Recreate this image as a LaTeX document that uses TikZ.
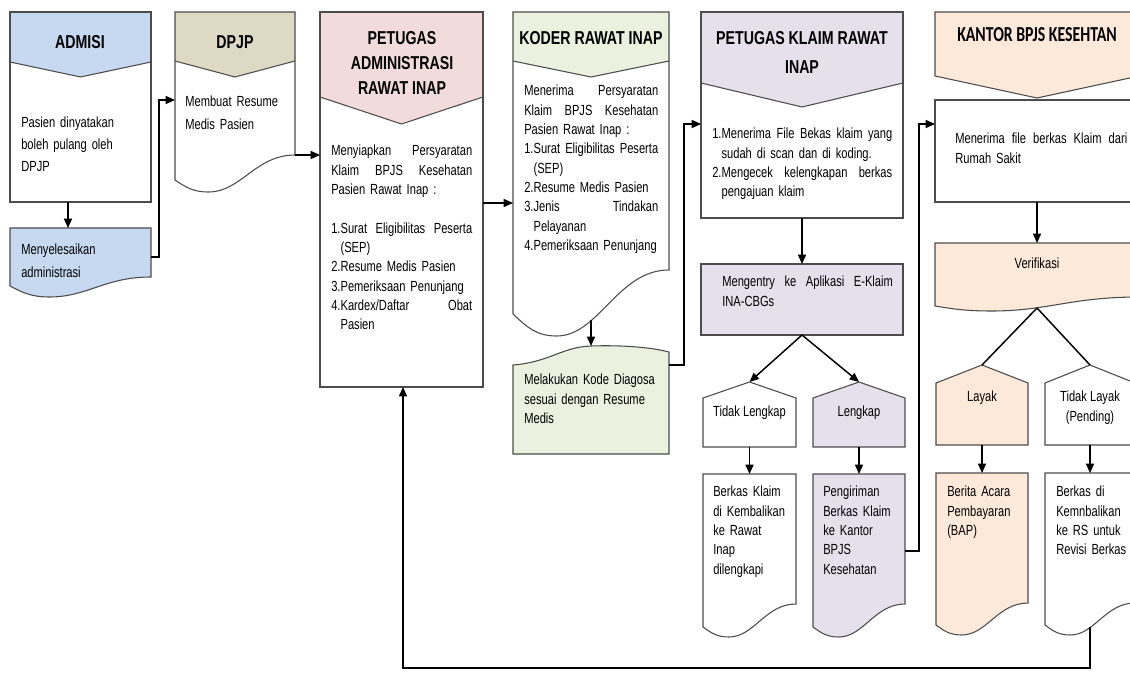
\documentclass[tikz,border=0pt]{standalone}
\usepackage{fontspec}
\setmainfont{Liberation Sans}[FakeStretch=0.76]
\newfontfamily\kantorfont{Carlito}[FakeStretch=0.74]
\usetikzlibrary{arrows.meta}

\definecolor{admblue}{HTML}{C6D9F1}
\definecolor{dpjptan}{HTML}{DDD9C3}
\definecolor{admpink}{HTML}{F2DCDB}
\definecolor{kodgreen}{HTML}{EBF1DE}
\definecolor{klalav}{HTML}{E5E0EC}
\definecolor{bpjspeach}{HTML}{FDE9D9}

\newcommand{\bodyfont}{\fontsize{11}{14.5}\selectfont}
\newcommand{\headfont}{\fontsize{14}{18.4}\selectfont\bfseries}
\newcommand{\jline}[1]{\leavevmode\hbox to \linewidth{\spaceskip=0.21em plus 3em\relax #1}}
\newcommand{\numind}{\phantom{1.}}

% header band of a column: colour, x1, x2, top, side, tip
\newcommand{\headfill}[6]{%
  \fill[#1] (#2,#4) -- (#3,#4) -- (#3,#5) -- ({(#2+#3)/2},#6) -- (#2,#5) -- cycle;
  \draw[box] (#2,#5) -- ({(#2+#3)/2},#6) -- (#3,#5);}

% document shape: style, x1, top, x2, left bottom, right bottom, dip
\newcommand{\docbox}[7]{%
  \pgfmathsetmacro\docw{#4-#2}
  \draw[#1] (#2,#3) -- (#4,#3) -- (#4,#6)
    .. controls +(-0.33*\docw,0) and +(0.27*\docw,0) .. ({#2+0.28*\docw},{#5+#7})
    .. controls +(-0.13*\docw,0) and +(0.09*\docw,{0.6*#7}) .. (#2,#5) -- cycle;}

\begin{document}
\begin{tikzpicture}[x=0.75pt, y=-0.75pt,
  box/.style={draw=black!70, line width=0.8pt},
  arr/.style={-{Triangle[length=7pt,width=6pt]}, line width=1.1pt},
  link/.style={line width=1.1pt},
  txt/.style={anchor=north west, inner sep=0pt, text width=#1, align=left, font=\bodyfont},
  txt/.default=100pt,
  ctr/.style={inner sep=0pt, align=center, font=\bodyfont},
  ttl/.style={inner sep=0pt, align=center, font=\headfont}]

\useasboundingbox (0,0) rectangle (1130,673);
\fill[white] (0,0) rectangle (1130,673);
\clip (0,0) rectangle (1130,673);

% admisi
\headfill{admblue}{10}{151}{12}{62}{77}
\draw[box] (10,12) rectangle (151,202);
\node[ttl] (tadm) at (80,42) {ADMISI};
\node[txt=100pt, font={\fontsize{11}{16.5}\selectfont}] (padm) at (21,117) {Pasien dinyatakan\\boleh pulang oleh\\DPJP};
\docbox{box, fill=admblue}{10}{228}{151}{286}{277}{11}
\node[txt=100pt, font={\fontsize{11}{17.2}\selectfont}] (psel) at (21,244) {Menyelesaikan\\administrasi};
\coordinate (admS) at (68,202);
\coordinate (selN) at (68,228);
\coordinate (selE) at (151,257);

% dpjp
\headfill{dpjptan}{175}{295}{12}{61}{77}
\docbox{box}{175}{12}{295}{180}{155}{12}
\node[ttl] (tdpjp) at (235,42) {DPJP};
\node[txt=85pt, font={\fontsize{11}{17.2}\selectfont}] (pdpjp) at (185,96) {Membuat Resume\\Medis Pasien};
\coordinate (dpjpW) at (175,100);
\coordinate (dpjpE) at (295,155);

% petugas administrasi rawat inap
\headfill{admpink}{320}{483}{12}{97}{124}
\draw[box] (320,12) rectangle (483,387);
\node[ttl] (tpa) at (402,63) {PETUGAS\\ADMINISTRASI\\RAWAT INAP};
\node[txt=105.75pt] (ppa) at (331,145) {\jline{Menyiapkan Persyaratan}\\
  \jline{Klaim BPJS Kesehatan}\\
  Pasien Rawat Inap :\\[14.5pt]
  \jline{1.Surat Eligibilitas Peserta}\\
  \numind(SEP)\\
  2.Resume Medis Pasien\\
  3.Pemeriksaan Penunjang\\
  \jline{4.Kardex/Daftar Obat}\\
  \numind Pasien};
\coordinate (paW) at (320,155);
\coordinate (paE) at (483,203);
\coordinate (paS) at (403,387);

% koder rawat inap
\headfill{kodgreen}{513}{669}{12}{61}{77}
\docbox{box}{513}{12}{669}{314}{270}{22}
\node[ttl] (tkod) at (591,38) {KODER RAWAT INAP};
\node[txt=100.5pt] (pkod) at (524,85) {\jline{Menerima Persyaratan}\\
  \jline{Klaim BPJS Kesehatan}\\
  Pasien Rawat Inap :\\
  \jline{1.Surat Eligibilitas Peserta}\\
  \numind(SEP)\\
  2.Resume Medis Pasien\\
  \jline{3.Jenis Tindakan}\\
  \numind Pelayanan\\
  4.Pemeriksaan Penunjang};
\coordinate (kodW) at (513,203);
\coordinate (kodS) at (591,320);

\draw[box, fill=kodgreen] (513,365) .. controls (550,362) and (562,347) .. (591,346)
  .. controls (620,345) and (650,347) .. (669,352) -- (669,454) -- (513,454) -- cycle;
\node[txt=110pt] (pmel) at (524,374) {Melakukan Kode Diagosa\\sesuai dengan Resume\\Medis};
\coordinate (melN) at (591,346);
\coordinate (melE) at (669,365);

% petugas klaim rawat inap
\headfill{klalav}{701}{903}{12}{83}{107}
\draw[box] (701,12) rectangle (903,218);
\node[ttl, font={\fontsize{14}{21.75}\selectfont\bfseries}] (tkla) at (802,52) {PETUGAS KLAIM RAWAT\\INAP};
\node[txt=135pt] (pkla) at (712,128) {\jline{1.Menerima File Bekas klaim yang}\\
  \numind sudah di scan dan di koding.\\
  \jline{2.Mengecek kelengkapan berkas}\\
  \numind pengajuan klaim};
\coordinate (klaW) at (701,124);
\coordinate (klaS) at (802,218);

\draw[box, fill=klalav] (701,264) rectangle (903,335);
\node[txt=128pt] (pent) at (722,276) {\jline{Mengentry ke Aplikasi E-Klaim}\\INA-CBGs};
\coordinate (entN) at (802,264);
\coordinate (entS) at (802,335);

\draw[box, fill=white] (703,398) -- (749.5,382) -- (796,398) -- (796,447) -- (703,447) -- cycle;
\node[ctr] (ptl) at (749.5,413) {Tidak Lengkap};
\draw[box, fill=klalav] (813,398) -- (859,382) -- (905,398) -- (905,447) -- (813,447) -- cycle;
\node[ctr] (plk) at (859,413) {Lengkap};
\coordinate (tlN) at (749.5,382);
\coordinate (tlS) at (749.5,447);
\coordinate (lkN) at (859,382);
\coordinate (lkS) at (859,447);

\docbox{box, fill=white}{703}{474}{796}{627}{604}{10}
\node[txt=68pt] (pbk) at (713,486) {Berkas Klaim\\di Kembalikan\\ke Rawat\\Inap\\dilengkapi};
\docbox{box, fill=klalav}{813}{474}{905}{627}{604}{10}
\node[txt=68pt] (ppg) at (823,486) {Pengiriman\\Berkas Klaim\\ke Kantor\\BPJS\\Kesehatan};
\coordinate (bkN) at (749.5,474);
\coordinate (pgN) at (859,474);
\coordinate (pgE) at (905,551);

% kantor bpjs
\draw[box, fill=bpjspeach] (935,12) -- (1139,12) -- (1139,76) -- (1037,98) -- (935,76) -- cycle;
\node[ttl, font={\fontsize{16}{18}\selectfont\kantorfont\bfseries}] (tkan) at (1037,35) {KANTOR BPJS KESEHTAN};
\draw[box, fill=white] (935,100) rectangle (1139,202);
\node[txt=129pt] (pkan) at (955,133) {\jline{Menerima file berkas Klaim dari}\\Rumah Sakit};
\coordinate (kanW) at (935,124);
\coordinate (kanS) at (1037,202);

\docbox{box, fill=bpjspeach}{935}{243}{1139}{306}{297}{5}
\node[ctr] (pver) at (1037,263) {Verifikasi};
\coordinate (verN) at (1037,243);
\coordinate (verS) at (1037,308);

\draw[box, fill=bpjspeach] (936,383) -- (982,365) -- (1028,383) -- (1028,445) -- (936,445) -- cycle;
\node[ctr] (play) at (982,398) {Layak};
\draw[box, fill=white] (1045,383) -- (1090,365) -- (1135,383) -- (1135,445) -- (1045,445) -- cycle;
\node[ctr, font={\fontsize{11}{15}\selectfont}] (ptly) at (1090,408) {Tidak Layak\\(Pending)};
\coordinate (layN) at (982,365);
\coordinate (layS) at (982,445);
\coordinate (tlyN) at (1090,365);
\coordinate (tlyS) at (1090,445);

\docbox{box, fill=bpjspeach}{936}{473}{1028}{625}{603}{10}
\node[txt=68pt] (pbap) at (947,486) {Berita Acara\\Pembayaran\\(BAP)};
\docbox{box, fill=white}{1045}{473}{1135}{625}{603}{10}
\node[txt=68pt] (prev) at (1056,486) {Berkas di\\Kemnbalikan\\ke RS untuk\\Revisi Berkas};
\coordinate (bapN) at (982,473);
\coordinate (revN) at (1090,473);
\coordinate (revS) at (1090,627);

% connectors
\draw[arr] (admS) -- (selN);
\draw[arr] (selE) -- ++(8,0) |- (dpjpW);
\draw[arr] (dpjpE) -- (paW);
\draw[arr] (paE) -- (kodW);
\draw[arr] (kodS) -- (melN);
\draw[arr] (melE) -- ++(15,0) |- (klaW);
\draw[arr] (klaS) -- (entN);
\draw[arr] (entS) -- (tlN);
\draw[arr] (entS) -- (lkN);
\draw[arr] (tlS) -- (bkN);
\draw[arr] (lkS) -- (pgN);
\draw[arr] (pgE) -- ++(14,0) |- (kanW);
\draw[arr] (kanS) -- (verN);
\draw[link] (verS) -- (layN);
\draw[link] (verS) -- (tlyN);
\draw[arr] (layS) -- (bapN);
\draw[arr] (tlyS) -- (revN);
\draw[arr] (revS) -- ++(0,41) -| (paS);
\end{tikzpicture}
\end{document}
